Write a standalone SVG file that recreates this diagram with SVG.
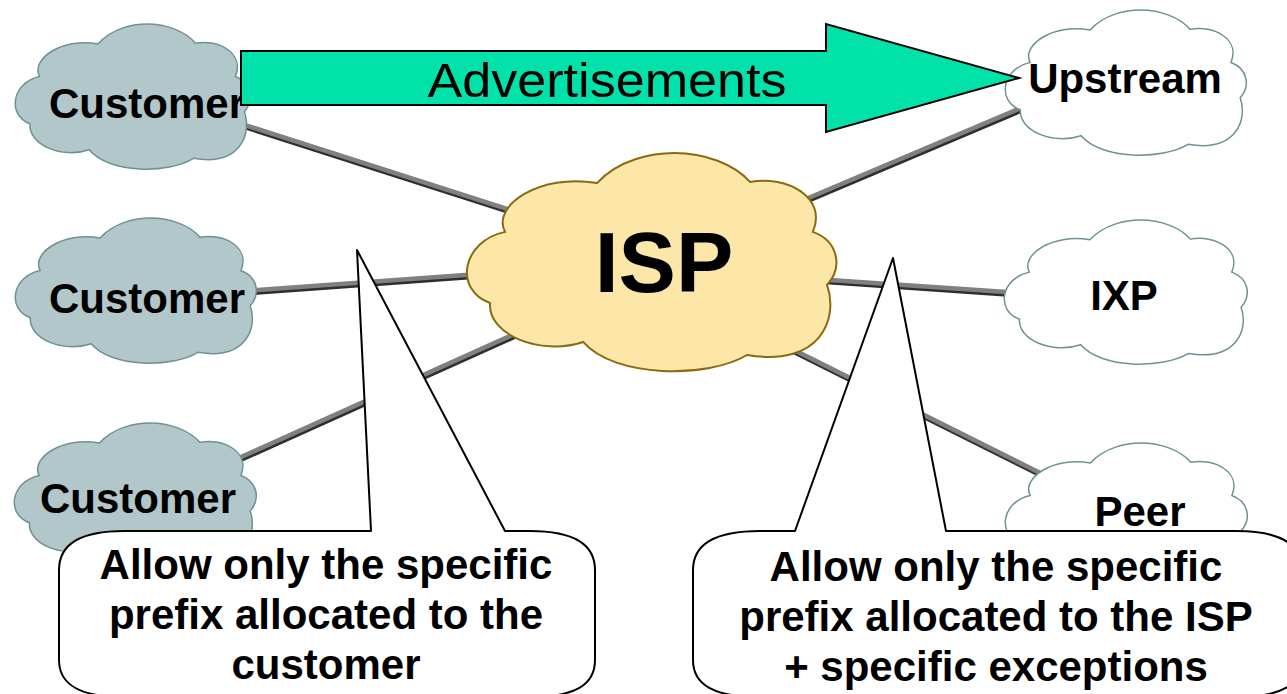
<svg xmlns="http://www.w3.org/2000/svg" xmlns:xlink="http://www.w3.org/1999/xlink" width="1287" height="694" viewBox="0 0 1287 694">
<style>
  .cust { fill: #b2c7c9; stroke: #6d9194; stroke-width: 1.5; }
  .wcl { fill: #ffffff; stroke: #6d9194; stroke-width: 1.5; }
  .isp { fill: #fde7a8; stroke: #8a6a10; stroke-width: 2; }
  .lbl { font-family: "Liberation Sans", Arial, sans-serif; font-weight: bold; font-size: 42px; fill: #000; text-anchor: middle; }
  .big { font-size: 86px; }
  .sh { stroke: #2e2e2e; stroke-width: 6; fill: none; }
  .ln { stroke: #808080; stroke-width: 4.5; fill: none; }
  .callout { fill: #ffffff; stroke: #000; stroke-width: 2; stroke-linejoin: round; }
  .adv { font-family: "Liberation Sans", Arial, sans-serif; font-size: 48px; fill: #000; text-anchor: middle; }
</style>
<defs>
  <path id="cloud" vector-effect="non-scaling-stroke" d="M10.7,35.7 C7,24 20,9 35.3,13.6 C41,3 50,0 56,0 C64,0 72,5 76.2,13.1 C86,10 97,20 93,35.7 C100,40 101,52 96.8,59.7 C100,75 95,97 75.4,91.4 C65,102 40,102 31.6,85.5 C20,92 6,82 6.7,67.9 C-3,62 -1,40 10.7,35.7 Z"/>
</defs>
<rect x="0" y="0" width="1287" height="694" fill="#ffffff"/>

<g id="connectors">
  <g transform="translate(0.8,1.6)">
    <line class="sh" x1="220" y1="117" x2="560" y2="226"/>
    <line class="sh" x1="230" y1="292" x2="520" y2="271"/>
    <line class="sh" x1="230" y1="462" x2="530" y2="327"/>
    <line class="sh" x1="780" y1="210" x2="1040" y2="100"/>
    <line class="sh" x1="800" y1="278" x2="1020" y2="293"/>
    <line class="sh" x1="780" y1="343" x2="1050" y2="478"/>
  </g>
  <line class="ln" x1="220" y1="117" x2="560" y2="226"/>
  <line class="ln" x1="230" y1="292" x2="520" y2="271"/>
  <line class="ln" x1="230" y1="462" x2="530" y2="327"/>
  <line class="ln" x1="780" y1="210" x2="1040" y2="100"/>
  <line class="ln" x1="800" y1="278" x2="1020" y2="293"/>
  <line class="ln" x1="780" y1="343" x2="1050" y2="478"/>
</g>

<g id="customer1">
  <use xlink:href="#cloud" class="cust" transform="translate(14,24) scale(2.38,1.47)"/>
  <text class="lbl" x="147" y="118">Customer</text>
</g>
<g id="customer2">
  <use xlink:href="#cloud" class="cust" transform="translate(14,218) scale(2.44,1.47)"/>
  <text class="lbl" x="147" y="313">Customer</text>
</g>
<g id="customer3">
  <use xlink:href="#cloud" class="cust" transform="translate(13,423) scale(2.45,1.47)"/>
  <text class="lbl" x="138" y="513">Customer</text>
</g>
<g id="upstream">
  <use xlink:href="#cloud" class="wcl" transform="translate(1004,10) scale(2.44,1.47)"/>
  <text class="lbl" x="1125" y="93">Upstream</text>
</g>
<g id="ixp">
  <use xlink:href="#cloud" class="wcl" transform="translate(1003,220) scale(2.46,1.46)"/>
  <text class="lbl" x="1124" y="310">IXP</text>
</g>
<g id="peer">
  <use xlink:href="#cloud" class="wcl" transform="translate(1004,443) scale(2.45,1.47)"/>
  <text class="lbl" x="1140" y="526">Peer</text>
</g>
<g id="isp">
  <use xlink:href="#cloud" class="isp" transform="translate(465,153) scale(3.74,2.21)"/>
  <text class="lbl big" x="664" y="292">ISP</text>
</g>

<g id="advertisements">
  <path d="M241,51 H826 V24 L1019,78 L826,132 V105 H241 Z" fill="#00e2aa" stroke="#000" stroke-width="2" stroke-linejoin="miter"/>
  <text class="adv" x="607" y="97" textLength="359" lengthAdjust="spacingAndGlyphs">Advertisements</text>
</g>

<g id="callout-left">
  <path class="callout" d="M124,531 H371 L357,250 L505,531 H530 C575,531 595,545 595,570 V660 C595,685 575,697 530,697 H124 C80,697 59,685 59,660 V570 C59,545 80,531 124,531 Z"/>
  <text class="lbl" x="326" y="579">Allow only the specific</text>
  <text class="lbl" x="326" y="629">prefix allocated to the</text>
  <text class="lbl" x="326" y="679">customer</text>
</g>
<g id="callout-right">
  <path class="callout" d="M760,531 H795 L893,258 L946,531 H1236 C1281,531 1302,545 1302,570 V660 C1302,685 1281,697 1236,697 H760 C714,697 693,685 693,660 V570 C693,545 714,531 760,531 Z"/>
  <text class="lbl" x="996" y="581">Allow only the specific</text>
  <text class="lbl" x="996" y="631">prefix allocated to the ISP</text>
  <text class="lbl" x="996" y="681">+ specific exceptions</text>
</g>
</svg>
